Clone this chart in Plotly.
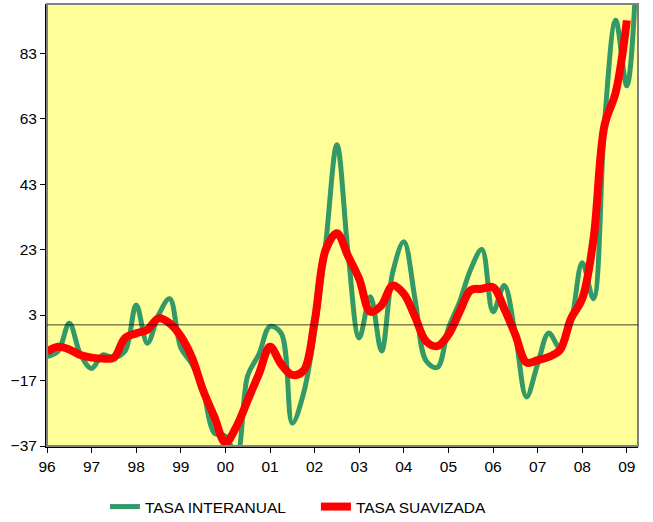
import plotly.graph_objects as go

# Quarterly time axis (fractional years)
quarters = [1996 + 0.25 * i for i in range(54)]

tasa_interanual = [
    -9.7, -8.0, 0.5, -9.0,      # 1996
    -13.3, -9.2, -10.0, -8.0,   # 1997
    6.1, -5.6, 3.0, 8.0,        # 1998
    -7.0, -12.0, -20.0, -33.0,  # 1999
    -34.0, -40.0, -15.5, -9.0,  # 2000
    -0.5, -2.5, -30.0, -21.0,   # 2001
    -2.0, 25.0, 55.0, 22.0,     # 2002
    -4.0, 8.6, -8.0, 16.0,      # 2003
    25.4, 8.0, -11.0, -13.0,    # 2004
    -1.0, 7.0, 17.0, 23.0,      # 2005
    4.0, 12.0, -3.0, -22.0,     # 2006
    -12.0, -2.5, -7.0, 1.0,     # 2007
    19.0, 8.0, 62.0, 93.0,      # 2008
    73.0, 120.0,                # 2009
]

tasa_suavizada = [
    -8.2, -6.7, -7.5, -9.2,     # 1996
    -10.0, -10.3, -10.0, -4.0,  # 1997
    -2.6, -1.5, 2.0, 0.5,       # 1998
    -3.5, -10.0, -20.0, -28.0,  # 1999
    -36.0, -31.0, -23.0, -15.0, # 2000
    -6.7, -12.0, -15.3, -14.0,  # 2001
    1.0, 23.0, 28.0, 21.0,      # 2002
    14.0, 4.0, 6.0, 12.0,       # 2003
    9.5, 2.5, -5.0, -6.5,       # 2004
    -3.0, 4.0, 10.6, 11.0,      # 2005
    11.5, 5.0, -3.0, -11.5,     # 2006
    -10.8, -9.8, -7.7, 2.0,     # 2007
    8.0, 26.0, 61.0, 71.0,      # 2008
    93.0,                       # 2009
]

year_ticks = list(range(1996, 2010))
year_labels = ["96", "97", "98", "99", "00", "01", "02", "03", "04", "05", "06", "07", "08", "09"]
y_ticks = [-37, -17, 3, 23, 43, 63, 83]

FONT = "Liberation Sans, Arial, sans-serif"
FS = 15.5

fig = go.Figure()
fig.add_trace(go.Scatter(
    x=quarters[:len(tasa_interanual)], y=tasa_interanual, mode="lines",
    name="TASA INTERANUAL",
    line=dict(color="#339966", width=5, shape="spline", smoothing=1.0),
))
fig.add_trace(go.Scatter(
    x=quarters[:len(tasa_suavizada)], y=tasa_suavizada, mode="lines",
    name="TASA SUAVIZADA",
    line=dict(color="#FF0000", width=8, shape="spline", smoothing=1.0),
))

# plot frame (gray) and zero line
fig.add_shape(type="rect", xref="paper", yref="paper", x0=0, x1=1, y0=0, y1=1,
              line=dict(color="#808080", width=2), layer="above")
fig.add_shape(type="line", xref="paper", yref="y", x0=0, x1=1, y0=0, y1=0,
              line=dict(color="rgba(0,0,0,0.75)", width=1), layer="above")

fig.update_layout(
    width=653, height=522,
    margin=dict(l=47, r=15, t=4, b=76, autoexpand=False),
    paper_bgcolor="white",
    plot_bgcolor="#FFFF99",
    font=dict(family=FONT, size=FS, color="black"),
    showlegend=True,
    legend=dict(orientation="h", x=0.098, xanchor="left", y=-0.138, yanchor="middle",
                font=dict(family=FONT, size=FS), bgcolor="rgba(0,0,0,0)",
                entrywidth=166, entrywidthmode="pixels", tracegroupgap=0),
    xaxis=dict(range=[1996, 2009.25], tickmode="array", tickvals=year_ticks, ticktext=year_labels,
               showgrid=False, zeroline=False, showline=True, linecolor="black", linewidth=2,
               ticks="outside", ticklen=5, tickcolor="black", tickfont=dict(size=FS)),
    yaxis=dict(range=[-37, 98], tickmode="array", tickvals=y_ticks,
               showgrid=False, zeroline=False, showline=True, linecolor="black", linewidth=2,
               ticks="outside", ticklen=5, tickcolor="black", tickfont=dict(size=FS)),
)

fig.write_html("out.html", config={"displayModeBar": False},
               post_script="document.body.style.margin='0';")
